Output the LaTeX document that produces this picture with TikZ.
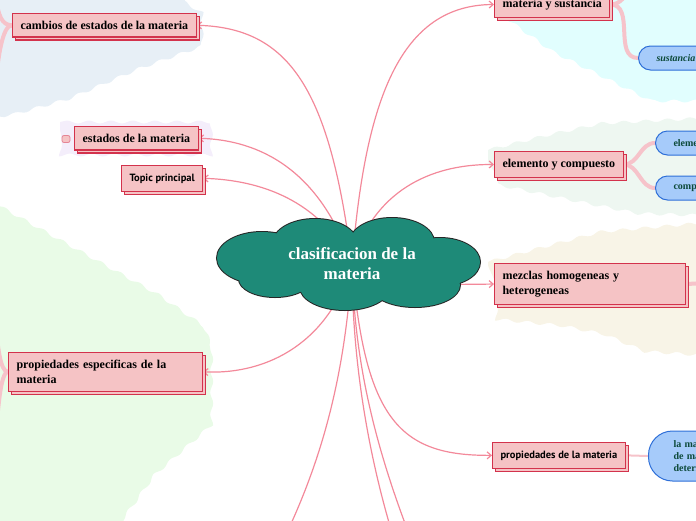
\documentclass[tikz,border=0pt]{standalone}
\usepackage{fontspec}
\setmainfont{Liberation Serif}
\newfontfamily\tpfont{PT Sans}
\usetikzlibrary{arrows.meta, positioning, shadows, decorations.pathmorphing}
\definecolor{mmpink}{HTML}{F5C3C5}
\definecolor{mmred}{HTML}{D3324C}
\definecolor{mmlink}{HTML}{F3899A}
\definecolor{mmbranch}{HTML}{F6C3CA}
\definecolor{mmteal}{HTML}{1E8A78}
\definecolor{mmblue}{HTML}{A6CBFA}
\definecolor{mmbluedraw}{HTML}{2E6FD8}
\definecolor{mmbluetext}{HTML}{0D4A3A}
\definecolor{bgslate}{HTML}{E7EFF6}
\definecolor{bglilac}{HTML}{F4EEFB}
\definecolor{bggreen}{HTML}{E9FBE7}
\definecolor{bgcyan}{HTML}{E1FEFE}
\definecolor{bgmint}{HTML}{EEF7F1}
\definecolor{bgcream}{HTML}{F8F4E7}
\pgfdeclarelayer{bg}
\pgfdeclarelayer{links}
\pgfsetlayers{bg,links,main}

\begin{document}
\begin{tikzpicture}[
      x=1pt, y=-1pt,
      idea/.style={text=white, align=center, font=\bfseries\fontsize{17}{20}\selectfont},
      topic/.style={draw=mmred, fill=mmpink, line width=1.1pt, text=black, anchor=north west,
                    inner xsep=8pt, inner ysep=7.5pt, font=\bfseries\fontsize{12}{15}\selectfont,
                    copy shadow={shadow xshift=3pt, shadow yshift=-3pt}},
      sanstopic/.style={topic, inner ysep=8pt, font=\tpfont\bfseries\fontsize{10.5}{13}\selectfont},
      leaf/.style={draw=mmbluedraw, fill=mmblue, line width=1pt, rounded corners=12pt,
                   text=mmbluetext, anchor=west, minimum height=24pt, inner xsep=18pt,
                   text width=90pt, align=left, font=\bfseries\fontsize{10}{12}\selectfont},
      fold/.style={draw=mmred!60, fill=mmpink, rounded corners=2pt, line width=0.8pt,
                   minimum width=8pt, minimum height=7pt, inner sep=0pt},
      link/.style={mmlink, line width=1.2pt, -{Straight Barb[length=4pt, width=7pt]}},
      branch/.style={mmbranch, line width=4pt, line cap=round},
      region/.style={decorate, decoration={snake, amplitude=1.5pt, segment length=22pt}},
      puffs/.style={insert path={
        (262,258) ellipse[x radius=45pt, y radius=26pt]
        (315,243) ellipse[x radius=42pt, y radius=24pt]
        (392,242) ellipse[x radius=42pt, y radius=24pt]
        (440,262) ellipse[x radius=40pt, y radius=24pt]
        (415,285) ellipse[x radius=45pt, y radius=22pt]
        (345,287) ellipse[x radius=45pt, y radius=23pt]
        (275,279) ellipse[x radius=36pt, y radius=18pt]
        (348,262) ellipse[x radius=100pt, y radius=28pt]}},
    ]
    \useasboundingbox (0,0) rectangle (696,520);
    \clip (0,0) rectangle (696,520);

    % ---------------- centre
    \draw[draw=black!85, line width=2pt, fill=mmteal, puffs];
    \fill[mmteal, puffs];
    \node[idea] (cl) at (352,264) {clasificacion de la\\materia};

    % ---------------- left branches
    \node[topic] (cambios) at (12,13) {cambios de estados de la materia};
    \node[topic] (estados) at (74,126) {estados de la materia};
    \node[fold] (fold) at (66,139) {};
    \node[sanstopic] (tp) at (121,165) {Topic principal};
    \node[topic, text width=178pt, align=left] (propesp) at (8,352)
      {propiedades especificas de la\\materia};

    % ---------------- right branches
    \node[topic] (mys) at (494,-9) {materia y sustancia};
    \node[topic] (eyc) at (494,151) {elemento y compuesto};
    \node[topic, text width=175pt, align=left] (mezclas) at (494,263)
      {mezclas homogeneas y\\heterogeneas};
    \node[sanstopic] (pdlm) at (492,442) {propiedades de la materia};

    % ---------------- leaves
    \node[leaf, font=\bfseries\itshape\fontsize{10}{12}\selectfont] (sust) at (638,58) {sustancia};
    \node[leaf] (elem) at (655,143) {elemento};
    \node[leaf] (comp) at (655,188) {compuesto};
    \node[leaf, rounded corners=24pt, minimum height=50pt, inner xsep=25pt] (desc) at (648,456)
      {la materia\\de manera\\determinada};

    % free ends
    \coordinate (cu) at (-4,-4);
    \coordinate (cd) at (-4,80);
    \coordinate (pu) at (-4,330);
    \coordinate (pd) at (-4,430);
    \coordinate (mu) at (630,-14);
    \coordinate (mz) at (705,283);
    \coordinate (b1) at (290,526);
    \coordinate (b2) at (390,526);
    \coordinate (b3) at (406,526);

    % ---------------- coloured areas
    \begin{pgfonlayer}{bg}
      \fill[bgslate, region] (-20,-20) -- (180,-20) -- (180,-2) -- (206,14) -- (206,45)
        -- (150,65) -- (80,95) -- (20,112) -- (-20,118) -- cycle;
      \fill[bglilac, region] (60,122) -- (206,122) -- (206,157) -- (60,157) -- cycle;
      \fill[bggreen, region] (-20,195) -- (60,240) -- (150,290) -- (200,325) -- (207,345)
        -- (207,420) -- (150,470) -- (100,540) -- (-20,540) -- cycle;
      \fill[bgcyan, region] (488,-20) -- (716,-20) -- (716,110) -- (640,110) -- (590,85)
        -- (540,60) -- (505,35) -- (488,22) -- cycle;
      \fill[bgmint, region] (488,150) -- (540,137) -- (600,124) -- (716,118) -- (716,215)
        -- (620,212) -- (560,200) -- (488,185) -- cycle;
      \fill[bgcream, region] (488,262) -- (540,248) -- (600,232) -- (716,222) -- (716,350)
        -- (640,345) -- (600,328) -- (550,318) -- (488,312) -- cycle;
    \end{pgfonlayer}

    % ---------------- connectors
    \begin{pgfonlayer}{links}
      \draw[link] (cl.center) .. controls (330,90) and (290,28) .. (cambios.east);
      \draw[link] (cl.center) .. controls (320,170) and (260,140) .. (estados.east);
      \draw[link] (cl.center) .. controls (320,200) and (260,180) .. (tp.east);
      \draw[link] (cl.center) .. controls (330,340) and (270,375) .. (propesp.east);
      \draw[link] (cl.center) .. controls (365,100) and (400,5) .. (mys.west);
      \draw[link] (cl.center) .. controls (370,200) and (420,164) .. (eyc.west);
      \draw[link] (cl.center) .. controls (420,285) .. (mezclas.west);
      \draw[link] (cl.center) .. controls (365,420) and (400,456) .. (pdlm.west);
      \draw[link, -] (cl.center) .. controls (345,380) and (320,460) .. (b1);
      \draw[link, -] (cl.center) .. controls (352,350) and (365,440) .. (b2);
      \draw[link, -] (cl.center) .. controls (354,350) and (370,430) .. (b3);

      \draw[branch] (cambios.west) .. controls +(-10,0) and +(2,20) .. (cu);
      \draw[branch] (cambios.west) .. controls +(-10,0) and +(2,-20) .. (cd);
      \draw[branch] (propesp.west) .. controls +(-8,0) and +(2,15) .. (pu);
      \draw[branch] (propesp.west) .. controls +(-8,0) and +(2,-15) .. (pd);
      \draw[branch] (mys.east) .. controls +(10,0) and +(-4,10) .. (mu);
      \draw[branch] (mys.east) .. controls +(25,0) and +(-25,0) .. (sust.west);
      \draw[branch] (eyc.east) .. controls +(15,0) and +(-15,0) .. (elem.west);
      \draw[branch] (eyc.east) .. controls +(15,0) and +(-15,0) .. (comp.west);
      \draw[branch] (mezclas.east) -- (mz);
      \draw[branch, line width=2pt] (pdlm.east) -- (desc.west);
    \end{pgfonlayer}
  \end{tikzpicture}
\end{document}
